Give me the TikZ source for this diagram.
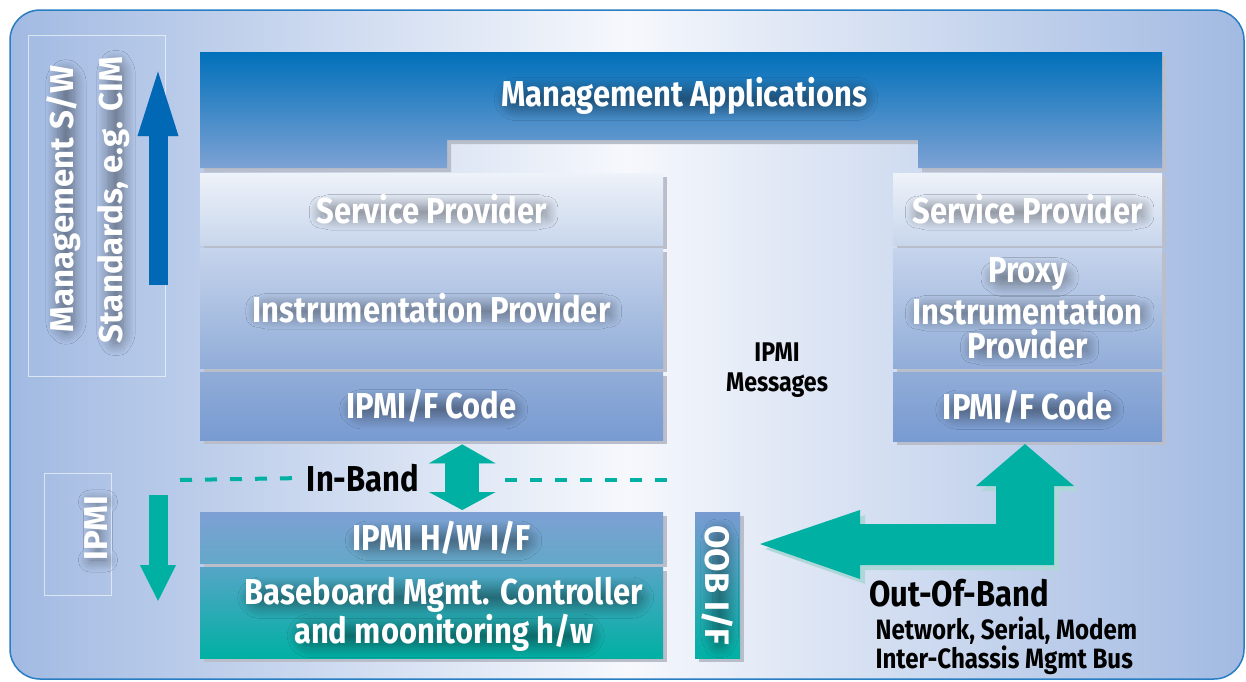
\documentclass[tikz,border=0pt]{standalone}
\usepackage{fontspec}
\setmainfont{Fira Sans}
\newfontfamily\condensed{Fira Sans}[FakeStretch=0.86]
\usetikzlibrary{arrows.meta, positioning, shadows, shadows.blur}
\definecolor{frameblue}{RGB}{40,125,195}
\definecolor{bgside}{RGB}{162,186,226}
\definecolor{bgmid}{RGB}{246,248,252}
\definecolor{appdark}{RGB}{0,112,186}
\definecolor{applight}{RGB}{125,162,212}
\definecolor{svctop}{RGB}{238,242,249}
\definecolor{svcbot}{RGB}{200,214,236}
\definecolor{insttop}{RGB}{198,212,236}
\definecolor{instbot}{RGB}{145,173,216}
\definecolor{codetop}{RGB}{145,172,215}
\definecolor{codebot}{RGB}{120,155,210}
\definecolor{hwtop}{RGB}{125,160,212}
\definecolor{hwbot}{RGB}{100,168,200}
\definecolor{bmctop}{RGB}{85,165,198}
\definecolor{mgmtteal}{RGB}{0,176,163}
\definecolor{tealshade}{RGB}{175,215,218}
\definecolor{arrowblue}{RGB}{0,104,180}
\definecolor{blueshade}{RGB}{120,160,215}
\definecolor{boxshade}{RGB}{185,190,202}

\begin{document}
\begin{tikzpicture}[x=1pt, y=-1pt,
    layer/.style={anchor=north west, inner sep=0pt,
        drop shadow={shadow xshift=4pt, shadow yshift=-4pt, fill=boxshade, opacity=1}},
    glowtext/.style={text=white, inner xsep=-3pt, inner ysep=-9pt,
        blur shadow={shadow xshift=2pt, shadow yshift=-3pt, shadow blur radius=12pt,
            shadow opacity=42, shadow blur steps=16, shadow blur extra rounding=10pt}},
    boxtext/.style={glowtext, font=\condensed\bfseries\fontsize{36}{37}\selectfont},
    sidelabel/.style={glowtext, font=\bfseries\fontsize{33}{40}\selectfont},
    darklabel/.style={text=black, font=\condensed\bfseries\fontsize{36}{37}\selectfont},
    smalllabel/.style={text=black, font=\condensed\bfseries\fontsize{27}{30}\selectfont},
    faintbox/.style={draw=white, opacity=0.6, line width=0.6pt}
]
    \useasboundingbox (0,0) rectangle (1246,681);

    % Outer frame
    \shadedraw[rounded corners=30pt, left color=bgside, right color=bgside, middle color=bgmid,
        draw=frameblue, line width=1.5pt] (10,10) rectangle (1244,679);

    % Management Applications (notched bar)
    \path[top color=appdark, bottom color=applight,
          drop shadow={shadow xshift=4pt, shadow yshift=-4pt, fill=boxshade, opacity=1}]
        (200,52) -- (1162,52) -- (1162,168) -- (918,168) -- (918,140)
        -- (447,140) -- (447,168) -- (200,168) -- cycle;
    \node[boxtext] (apps) at (684,96) {Management Applications};

    % Left stack
    \node[layer, minimum width=463pt, minimum height=72pt, top color=svctop, bottom color=svcbot]
        (svcl) at (200,173) {};
    \node[layer, minimum width=463pt, minimum height=120pt, top color=insttop, bottom color=instbot]
        (instl) at (200,248) {};
    \node[layer, minimum width=463pt, minimum height=68pt, top color=codetop, bottom color=codebot]
        (codel) at (200,372) {};
    \node[layer, minimum width=463pt, minimum height=51pt, top color=hwtop, bottom color=hwbot]
        (hw) at (200,512) {};
    \node[layer, minimum width=463pt, minimum height=91pt, top color=bmctop, bottom color=mgmtteal]
        (bmc) at (200,567) {};
    \node[boxtext] (svcltxt) at (svcl) {Service Provider};
    \node[boxtext] (instltxt) at (instl) {Instrumentation Provider};
    \node[boxtext] (codeltxt) at (codel) {IPMI/F Code};
    \node[boxtext, xshift=10pt] (hwtxt) at (hw) {IPMI H/W I/F};
    \node[boxtext, xshift=12pt, yshift=18pt] (bmctxt1) at (bmc) {Baseboard Mgmt. Controller};
    \node[boxtext, xshift=12pt, yshift=-20pt] (bmctxt2) at (bmc) {and moonitoring h/w};

    % Right stack
    \node[layer, minimum width=269pt, minimum height=72pt, top color=svctop, bottom color=svcbot]
        (svcr) at (893,173) {};
    \node[layer, minimum width=269pt, minimum height=120pt, top color=insttop, bottom color=instbot]
        (proxy) at (893,248) {};
    \node[layer, minimum width=269pt, minimum height=69pt, top color=codetop, bottom color=codebot]
        (coder) at (893,372) {};
    \node[boxtext] (svcrtxt) at (svcr) {Service Provider};
    \node[boxtext, yshift=-2pt] (proxytxt2) at (proxy) {Instrumentation};
    \node[boxtext, yshift=36pt] (proxytxt1) at (proxytxt2) {Proxy};
    \node[boxtext, yshift=-34pt] (proxytxt3) at (proxytxt2) {Provider};
    \node[boxtext] (codertxt) at (coder) {IPMI/F Code};

    % OOB interface
    \node[layer, minimum width=45pt, minimum height=146pt, top color=codebot, bottom color=mgmtteal]
        (oob) at (695,512) {};
    \node[glowtext, rotate=-90, font=\bfseries\fontsize{34}{34}\selectfont] (oobtxt) at (oob.center)
        {OOB I/F};

    % Side labels
    \draw[faintbox] (28,35) rectangle (165,376);
    \node[sidelabel, rotate=90] (stdtxt1) at (64,199) {Management S/W};
    \node[sidelabel, rotate=90] (stdtxt2) at (114,200) {Standards, e.g. CIM};
    \coordinate (stdbot) at (158,285);
    \coordinate (stdtop) at (158,56);
    \draw[blueshade, line width=19pt, -{Triangle[length=80pt, width=33pt]}, xshift=4pt, yshift=-5pt]
        (stdbot) -- (stdtop);
    \draw[arrowblue, line width=19pt, -{Triangle[length=80pt, width=33pt]}] (stdbot) -- (stdtop);

    \draw[faintbox] (44,473) rectangle (111,595);
    \node[sidelabel, rotate=90] (ipmitxt) at (96,528) {IPMI};
    \coordinate (ipmitop) at (158,495);
    \coordinate (ipmibot) at (158,602);
    \draw[tealshade, line width=19pt, -{Triangle[length=37pt, width=33pt]}, xshift=4pt, yshift=-4pt]
        (ipmitop) -- (ipmibot);
    \draw[mgmtteal, line width=19pt, -{Triangle[length=37pt, width=33pt]}] (ipmitop) -- (ipmibot);

    % In-Band
    \node[darklabel] (inband) at (363,478) {In-Band};
    \draw[mgmtteal, line width=4pt, dash pattern=on 12pt off 13pt] (180,480) -- (inband.west);
    \draw[mgmtteal, line width=4pt, dash pattern=on 12pt off 13pt] (505,480) -- (668,480);
    \draw[tealshade, line width=34pt, {Triangle[length=19pt, width=66pt]}-{Triangle[length=18pt, width=66pt]},
        shorten <=4pt, shorten >=2pt, xshift=4pt, yshift=-4pt]
        ([xshift=30.5pt]codel.south) -- ([xshift=30.5pt]hw.north);
    \draw[mgmtteal, line width=34pt, {Triangle[length=19pt, width=66pt]}-{Triangle[length=18pt, width=66pt]},
        shorten <=4pt, shorten >=2pt]
        ([xshift=30.5pt]codel.south) -- ([xshift=30.5pt]hw.north);

    % IPMI Messages
    \node[smalllabel, align=center] (msgs) at (777,370) {IPMI\\Messages};

    % Out-of-band arrow
    \fill[tealshade, xshift=5pt, yshift=-5pt] (760,544) -- (860,510) -- (860,524) -- (996,524) -- (996,486)
        -- (976,486) -- (1025,444) -- (1074,486) -- (1054,486) -- (1054,565) -- (860,565) -- (860,579) -- cycle;
    \fill[mgmtteal] (760,544) -- (860,510) -- (860,524) -- (996,524) -- (996,486)
        -- (976,486) -- (1025,444) -- (1074,486) -- (1054,486) -- (1054,565) -- (860,565) -- (860,579) -- cycle;

    \node[darklabel, anchor=west] (oobband) at (866,593) {Out-Of-Band};
    \node[smalllabel, align=left, anchor=north west, font=\condensed\bfseries\fontsize{28}{29}\selectfont]
        (links) at (872,613) {Network, Serial, Modem\\Inter-Chassis Mgmt Bus};
\end{tikzpicture}
\end{document}
